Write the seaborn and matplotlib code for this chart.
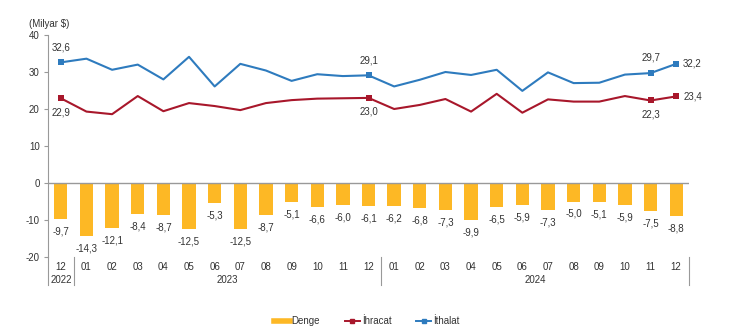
import matplotlib
matplotlib.use("Agg")
import matplotlib.pyplot as plt
import seaborn as sns
import pandas as pd
from matplotlib.lines import Line2D

months = ["12", "01", "02", "03", "04", "05", "06", "07", "08", "09", "10", "11", "12",
          "01", "02", "03", "04", "05", "06", "07", "08", "09", "10", "11", "12"]
years = ["2022", "2023", "2024"]
denge = [-9.7, -14.3, -12.1, -8.4, -8.7, -12.5, -5.3, -12.5, -8.7, -5.1, -6.6, -6.0, -6.1,
         -6.2, -6.8, -7.3, -9.9, -6.5, -5.9, -7.3, -5.0, -5.1, -5.9, -7.5, -8.8]
ihracat = [22.9, 19.3, 18.6, 23.5, 19.4, 21.6, 20.8, 19.7, 21.6, 22.4, 22.8, 22.9, 23.0,
           20.0, 21.1, 22.7, 19.3, 24.1, 19.0, 22.6, 22.0, 22.0, 23.5, 22.3, 23.4]
ithalat = [32.6, 33.6, 30.6, 32.0, 28.0, 34.1, 26.1, 32.2, 30.4, 27.6, 29.4, 28.9, 29.1,
           26.1, 27.9, 30.0, 29.2, 30.6, 24.9, 29.9, 27.0, 27.1, 29.3, 29.7, 32.2]

plt.rcParams['font.family'] = ['Liberation Sans', 'DejaVu Sans']
txt = "#333333"
gold = "#FDB825"
red = "#A8172B"
blue = "#2E7BBE"

df = pd.DataFrame({"x": list(range(len(months))), "denge": denge,
                   "ihracat": ihracat, "ithalat": ithalat})

fig = plt.figure(figsize=(7.30, 3.33), dpi=100)
ax = fig.add_axes([48/730, 1-257/333, (689-48)/730, (257-35)/333])

sns.barplot(data=df, x="x", y="denge", color=gold, width=0.52, ax=ax,
            saturation=1, order=list(range(len(months))))
sns.lineplot(data=df, x="x", y="ihracat", color=red, lw=1.5, ax=ax,
             marker="s", markersize=4, markevery=[0, 12, 23, 24], markeredgewidth=0)
sns.lineplot(data=df, x="x", y="ithalat", color=blue, lw=1.5, ax=ax,
             marker="s", markersize=4, markevery=[0, 12, 23, 24], markeredgewidth=0)

n = len(months)
ax.set_xlim(-0.5, n - 0.5)
ax.set_ylim(-20, 40)
ax.set_yticks([-20, -10, 0, 10, 20, 30, 40])
ax.set_yticklabels(["-20", "-10", "0", "10", "20", "30", "40"])
ax.tick_params(axis='y', length=3, color="#999999", labelsize=7, labelcolor=txt, pad=3)
ax.set_xticks([])
ax.set_xlabel("")
ax.set_ylabel("")
for s in ["top", "right", "bottom"]:
    ax.spines[s].set_visible(False)
ax.spines["left"].set_color("#999999")
ax.axhline(0, color="#999999", lw=1)

fmt = lambda v: f"{v:.1f}".replace(".", ",")
for i, v in enumerate(denge):
    ax.annotate(fmt(v), (i, v), xytext=(0, -9), textcoords="offset points",
                ha="center", va="center", fontsize=7, color=txt)

for i in [0, 12, 23]:
    ax.annotate(fmt(ithalat[i]), (i, ithalat[i]), xytext=(0, 11), textcoords="offset points",
                ha="center", va="center", fontsize=7, color=txt)
    ax.annotate(fmt(ihracat[i]), (i, ihracat[i]), xytext=(0, -10), textcoords="offset points",
                ha="center", va="center", fontsize=7, color=txt)
ax.annotate(fmt(ithalat[24]), (24, ithalat[24]), xytext=(5, 0), textcoords="offset points",
            ha="left", va="center", fontsize=7, color=txt)
ax.annotate(fmt(ihracat[24]), (24, ihracat[24]), xytext=(5, 0), textcoords="offset points",
            ha="left", va="center", fontsize=7, color=txt)

# multi-level category axis
trans = ax.get_xaxis_transform()
for i, m in enumerate(months):
    ax.text(i, -0.045, m, transform=trans, ha="center", va="center", fontsize=7, color=txt)
ax.text(0, -0.105, years[0], transform=trans, ha="center", va="center", fontsize=7, color=txt)
ax.text(6.5, -0.105, years[1], transform=trans, ha="center", va="center", fontsize=7, color=txt)
ax.text(18.5, -0.105, years[2], transform=trans, ha="center", va="center", fontsize=7, color=txt)
for xb in [0.5, 12.5, 24.5]:
    ax.plot([xb, xb], [0, -0.125], transform=trans, color="#999999", lw=0.8, clip_on=False)
ax.plot([-0.5, -0.5], [0, -0.125], transform=trans, color="#999999", lw=0.8, clip_on=False)

fig.text(29/730, 1-24/333, "(Milyar $)", fontsize=7, color=txt, ha="left", va="center")

handles = [Line2D([0], [0], color=gold, lw=4),
           Line2D([0], [0], color=red, lw=1.4, marker="s", markersize=3),
           Line2D([0], [0], color=blue, lw=1.4, marker="s", markersize=3)]
fig.legend(handles, ["Denge", "İhracat", "İthalat"], loc="center", ncol=3,
           bbox_to_anchor=(367/730, 1-321/333), frameon=False, fontsize=7,
           handlelength=1.6, handletextpad=0.2, columnspacing=2.5, labelcolor=txt)

fig.savefig("out.png", dpi=100)
